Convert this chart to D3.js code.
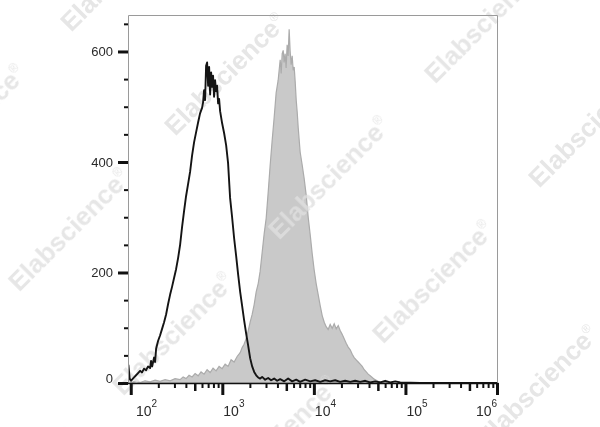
<!DOCTYPE html>
<html><head><meta charset="utf-8">
<script src="https://cdn.jsdelivr.net/npm/d3@7"></script>
<style>html,body{margin:0;padding:0;background:#fff;} svg{display:block}</style>
</head><body><svg id="c" width="600" height="427"></svg>
<script>
// Stained sample (grey filled histogram): log10 intensity and event count
const stainedLog = [1.990,2.003,2.047,2.102,2.156,2.211,2.266,2.320,2.375,2.430,2.484,2.539,2.572,2.604,2.637,2.670,2.703,2.736,2.768,2.801,2.834,2.867,2.899,2.932,2.965,2.998,3.031,3.063,3.096,3.129,3.162,3.195,3.217,3.238,3.260,3.282,3.304,3.326,3.348,3.370,3.392,3.413,3.435,3.457,3.479,3.501,3.523,3.545,3.566,3.588,3.610,3.632,3.643,3.654,3.665,3.675,3.686,3.697,3.708,3.719,3.730,3.741,3.752,3.763,3.774,3.785,3.796,3.807,3.818,3.829,3.850,3.872,3.894,3.916,3.938,3.960,3.981,4.003,4.025,4.047,4.069,4.091,4.113,4.134,4.156,4.178,4.200,4.222,4.244,4.266,4.287,4.309,4.331,4.353,4.375,4.397,4.419,4.440,4.462,4.484,4.506,4.528,4.550,4.572,4.593,4.615,4.637,4.659,4.681,4.703,4.725,4.768,4.834];
const stainedCount = [0,1,3,1,4,2,5,3,6,4,8,6,11,8,14,11,17,13,20,16,24,19,27,22,30,26,34,30,42,38,48,55,64,70,80,94,110,124,142,165,180,202,236,270,298,345,395,440,480,525,548,585,560,596,602,580,596,570,612,592,640,600,576,592,566,572,545,512,490,462,418,395,370,340,300,268,235,205,180,160,140,122,110,102,97,106,99,107,98,104,95,88,80,72,65,60,52,46,42,38,34,30,24,20,16,13,10,7,5,3,2,1,0];

// Isotype control (black line histogram)
const controlLog = [1.972,1.975,1.988,2.003,2.014,2.036,2.058,2.080,2.102,2.123,2.145,2.167,2.189,2.211,2.222,2.233,2.255,2.266,2.277,2.298,2.320,2.342,2.364,2.386,2.408,2.430,2.451,2.473,2.495,2.517,2.539,2.561,2.583,2.604,2.626,2.648,2.670,2.692,2.714,2.736,2.757,2.779,2.790,2.801,2.812,2.823,2.834,2.845,2.856,2.867,2.878,2.889,2.899,2.910,2.921,2.932,2.943,2.954,2.965,2.976,2.998,3.020,3.042,3.063,3.085,3.107,3.129,3.151,3.173,3.195,3.216,3.238,3.260,3.282,3.304,3.326,3.348,3.370,3.391,3.413,3.435,3.468,3.501,3.533,3.566,3.599,3.632,3.676,3.719,3.763,3.807,3.850,3.905,3.960,4.014,4.069,4.124,4.178,4.233,4.287,4.342,4.397,4.451,4.506,4.561,4.615,4.670,4.725,4.779,4.834,4.889,4.943,5.162,6.003];
const controlCount = [0,32,8,4,6,10,14,18,22,19,26,23,30,27,40,30,46,38,62,76,86,98,110,124,143,160,174,190,206,226,250,283,312,338,360,382,412,436,454,472,488,498,508,530,512,574,580,538,572,522,562,536,556,518,548,528,538,506,514,492,470,452,430,398,335,300,262,230,196,165,140,114,90,68,45,30,20,14,10,8,11,6,9,5,8,4,7,3,8,3,6,2,6,3,5,2,5,3,5,2,4,2,4,2,4,1,3,1,4,1,3,1,0,0];

const xMajorExponents = [2,3,4,5,6];
const yMajorValues = [0,200,400,600];
const yMinorValues = [50,100,150,250,300,350,450,500,550,650];
const watermarkText = "Elabscience";

const svg = d3.select("#c");
const L = 128, R = 497, T = 15, B = 383;
const x = d3.scaleLog().domain([Math.pow(10,1.97), 1e6]).range([L, R]);
const y = d3.scaleLinear().domain([0, 666]).range([B, T]);

const stained = stainedLog.map((e,i)=>({v:Math.pow(10,e), c:stainedCount[i]}));
const control = controlLog.map((e,i)=>({v:Math.pow(10,e), c:controlCount[i]}));

svg.append("clipPath").attr("id","clip").append("rect")
  .attr("x",L).attr("y",T).attr("width",R-L).attr("height",B-T);

// grey filled histogram
svg.append("path").datum(stained)
  .attr("clip-path","url(#clip)")
  .attr("fill","#c9c9c9").attr("stroke","#ababab").attr("stroke-width",1.2)
  .attr("d", d3.area().x(d=>x(d.v)).y0(y(0)).y1(d=>y(d.c)));

// watermarks
const wm = svg.append("g").attr("font-family","'Liberation Sans', Arial, sans-serif")
  .attr("font-weight","bold").attr("font-size",26).attr("fill","#e0e0e0").attr("opacity",0.8);
for (let i=-4;i<=5;i++){
  for (let j=-3;j<=3;j++){
    const cx = 225 + i*104 + j*156, cy = 74 + i*104 - j*156;
    if (cx < -120 || cx > 720 || cy < -120 || cy > 550) continue;
    const t = wm.append("text").attr("text-anchor","middle")
      .attr("transform",`translate(${cx},${cy}) rotate(-45)`).attr("dy","0.35em");
    t.append("tspan").text(watermarkText);
    t.append("tspan").attr("font-size",12).attr("font-weight","normal").attr("dy","-0.9em").text("®");
  }
}

// black control line
svg.append("path").datum(control)
  .attr("clip-path","url(#clip)")
  .attr("fill","none").attr("stroke","#141414").attr("stroke-width",1.9).attr("stroke-linejoin","round")
  .attr("d", d3.line().x(d=>x(d.v)).y(d=>y(d.c)));

// frame
svg.append("path").attr("fill","none").attr("stroke","#9a9a9a").attr("stroke-width",1)
  .attr("d",`M${L+0.5},${B}V${T+0.5}H${R+0.5}V${B}`);
svg.append("line").attr("x1",L).attr("x2",R+1.5).attr("y1",B+0.5).attr("y2",B+0.5)
  .attr("stroke","#111").attr("stroke-width",1.6);

// y axis
function styleAxis(g, w){ g.select(".domain").remove(); g.selectAll(".tick line").attr("stroke","#111").attr("stroke-width",w); g.selectAll(".tick text").remove(); }
svg.append("g").attr("transform",`translate(${L},0)`)
  .call(d3.axisLeft(y).tickValues(yMajorValues).tickSize(10).tickFormat(""))
  .call(g=>styleAxis(g,3));
svg.append("g").attr("transform",`translate(${L},0)`)
  .call(d3.axisLeft(y).tickValues(yMinorValues).tickSize(4).tickFormat(""))
  .call(g=>styleAxis(g,2));
svg.append("g").selectAll("text").data(yMajorValues).join("text")
  .attr("x",113).attr("y",d=>y(d) - (d===0?5:0)).attr("dy","0.35em")
  .attr("text-anchor","end").attr("font-family","'Liberation Sans', Arial, sans-serif")
  .attr("font-size",13).attr("fill","#2a2a2a").text(d=>d);

// x axis
const xMajor = xMajorExponents.map(e=>Math.pow(10,e));
const xMinor = [], xMedium = [];
for (let e=2;e<6;e++) for (let k=2;k<=9;k++) (k===5?xMedium:xMinor).push(k*Math.pow(10,e));
svg.append("g").attr("transform",`translate(0,${B})`)
  .call(d3.axisBottom(x).tickValues(xMajor).tickSize(12).tickFormat(""))
  .call(g=>styleAxis(g,3));
svg.append("g").attr("transform",`translate(0,${B})`)
  .call(d3.axisBottom(x).tickValues(xMedium).tickSize(8).tickFormat(""))
  .call(g=>styleAxis(g,2.5));
svg.append("g").attr("transform",`translate(0,${B})`)
  .call(d3.axisBottom(x).tickValues(xMinor).tickSize(5).tickFormat(""))
  .call(g=>styleAxis(g,2));
const labW = 20;
svg.append("g").selectAll("text").data(xMajorExponents).join("text")
  .attr("x",e=>Math.min(Math.max(x(Math.pow(10,e))+1, 136), 496-labW))
  .attr("y",416).attr("font-family","'Liberation Sans', Arial, sans-serif")
  .attr("font-size",14).attr("fill","#2a2a2a")
  .each(function(e){
    const t = d3.select(this);
    t.append("tspan").text("10");
    t.append("tspan").attr("font-size",10).attr("dy",-9).text(e);
  });
</script></body></html>
